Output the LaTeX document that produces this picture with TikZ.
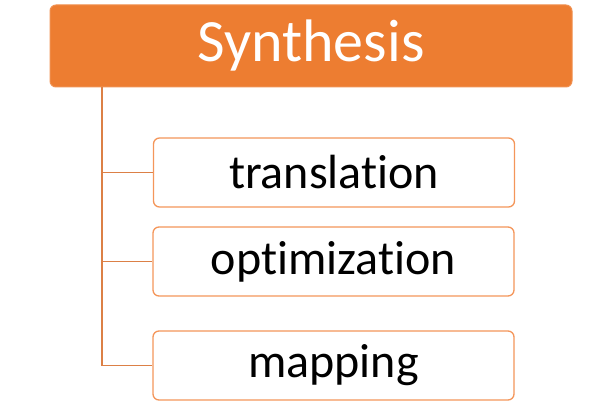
\documentclass[tikz,border=0pt]{standalone}
\usepackage{fontspec}
\setmainfont[Ligatures=NoCommon]{Carlito}
\definecolor{orfill}{HTML}{ED7D31}
\definecolor{orline}{HTML}{DC8046}
\definecolor{orborder}{HTML}{F4965A}
\begin{document}
\begin{tikzpicture}[x=1pt,y=-1pt,
  head/.style={draw=orfill!85!white,fill=orfill,rounded corners=6pt,line width=1pt,
    minimum width=522pt,minimum height=82pt,inner sep=0pt,text=white,
    font=\fontsize{60}{60}\selectfont},
  item/.style={draw=orborder,fill=white,rounded corners=6pt,line width=1.3pt,
    minimum width=361pt,minimum height=69pt,inner sep=0pt,text=black,
    font=\fontsize{48}{48}\selectfont},
  conn/.style={draw=orline,line width=1.2pt}]
\useasboundingbox (0,0) rectangle (611,419);
\node[head] (syn) at (311,46) {Synthesis};
\node[item] (tr) at (334,172.5) {translation};
\node[item] (op) at (333.5,261.5) {optimization};
\node[item] (mp) at (333.5,365.5) {mapping};
\coordinate (top) at (102,87);
\coordinate (j1) at (102,172.5);
\coordinate (j2) at (102,261.5);
\coordinate (j3) at (102,365.5);
\draw[conn] (top) -- (j3) -- (mp.west);
\draw[conn] (j1) -- (tr.west);
\draw[conn] (j2) -- (op.west);
\end{tikzpicture}
\end{document}
